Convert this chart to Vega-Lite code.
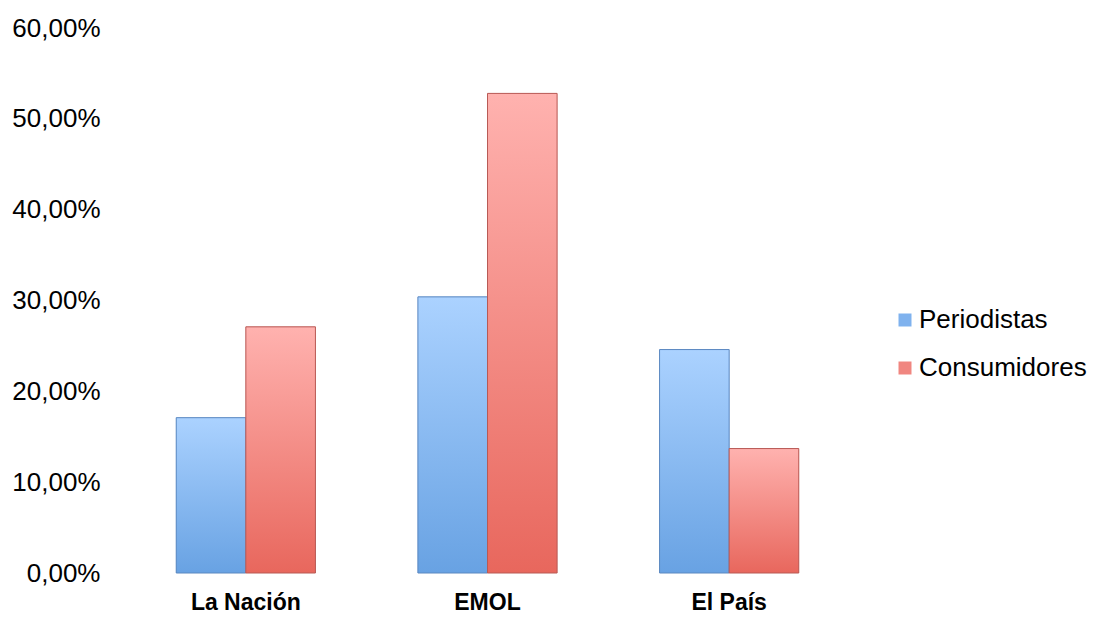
{
  "$schema": "https://vega.github.io/schema/vega-lite/v6.json",
  "autosize": "none",
  "width": 725,
  "height": 545,
  "padding": {"left": 125, "top": 28, "right": 243, "bottom": 46},
  "background": "white",
  "config": {
    "font": "Liberation Sans",
    "view": {"stroke": null},
    "axis": {"labelColor": "#000000", "titleColor": "#000000"}
  },
  "data": {
    "values": [
      {"medio": "La Nación", "grupo": "Periodistas", "valor": 0.171},
      {"medio": "La Nación", "grupo": "Consumidores", "valor": 0.271},
      {"medio": "EMOL", "grupo": "Periodistas", "valor": 0.304},
      {"medio": "EMOL", "grupo": "Consumidores", "valor": 0.528},
      {"medio": "El País", "grupo": "Periodistas", "valor": 0.246},
      {"medio": "El País", "grupo": "Consumidores", "valor": 0.137}
    ]
  },
  "encoding": {
    "x": {
      "field": "medio",
      "type": "nominal",
      "sort": ["La Nación", "EMOL", "El País"],
      "scale": {"paddingInner": 0.424, "paddingOuter": 0.212},
      "axis": {
        "title": null,
        "labelAngle": 0,
        "labelFontSize": 23,
        "labelFontWeight": "bold",
        "labelPadding": 18,
        "ticks": false,
        "domain": false
      }
    },
    "xOffset": {
      "field": "grupo",
      "type": "nominal",
      "sort": ["Periodistas", "Consumidores"]
    },
    "y": {
      "field": "valor",
      "type": "quantitative",
      "scale": {"domain": [0, 0.6]},
      "axis": {
        "title": null,
        "values": [0, 0.1, 0.2, 0.3, 0.4, 0.5, 0.6],
        "labelExpr": "replace(format(datum.value, '.2%'), '.', ',')",
        "labelFontSize": 26,
        "labelPadding": 25,
        "ticks": false,
        "domain": false,
        "grid": false
      }
    }
  },
  "layer": [
    {
      "mark": {"type": "bar", "strokeWidth": 1},
      "encoding": {
        "color": {
          "field": "grupo",
          "type": "nominal",
          "sort": ["Periodistas", "Consumidores"],
          "scale": {"domain": ["Periodistas", "Consumidores"], "range": ["#7fb2ee", "#f08680"]},
          "legend": {
            "title": null,
            "orient": "none",
            "legendX": 767,
            "legendY": 279,
            "symbolType": "square",
            "symbolSize": 169,
            "symbolStrokeWidth": 0,
            "labelFontSize": 26,
            "labelColor": "#000000",
            "labelOffset": 1,
            "labelLimit": 400,
            "rowPadding": 22
          }
        }
      }
    },
    {
      "mark": {"type": "bar", "strokeWidth": 1},
      "encoding": {
        "fill": {
          "condition": {
            "test": "datum.grupo === 'Periodistas'",
            "value": {
              "gradient": "linear", "x1": 0, "y1": 0, "x2": 0, "y2": 1,
              "stops": [
                {"offset": 0, "color": "#abd2ff"},
                {"offset": 1, "color": "#68a2e3"}
              ]
            }
          },
          "value": {
            "gradient": "linear", "x1": 0, "y1": 0, "x2": 0, "y2": 1,
            "stops": [
              {"offset": 0, "color": "#ffb2af"},
              {"offset": 1, "color": "#e8675d"}
            ]
          }
        },
        "stroke": {
          "condition": {"test": "datum.grupo === 'Periodistas'", "value": "#5b88c0"},
          "value": "#b85a55"
        }
      }
    }
  ]
}
